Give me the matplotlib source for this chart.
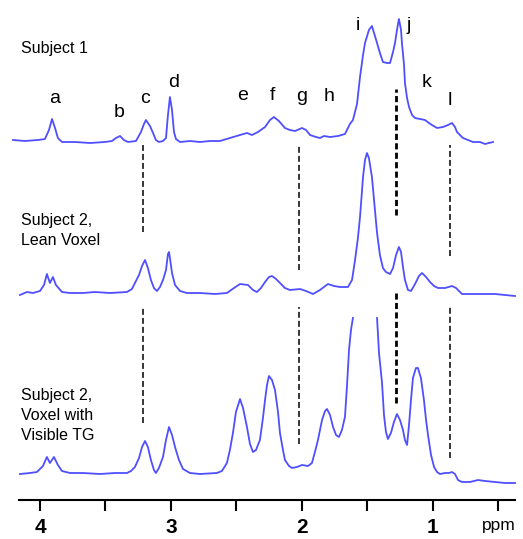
import matplotlib
matplotlib.use("Agg")
import matplotlib.pyplot as plt
import numpy as np

plt.rcParams['font.family'] = ['Liberation Sans', 'DejaVu Sans']

# chemical shift (ppm) and height above baseline for each spectrum
s1_ppm = [4.206, 4.115, 4.015, 3.962, 3.931, 3.908, 3.885, 3.863, 3.832, 3.733, 3.618, 3.504,
          3.450, 3.420, 3.389, 3.359, 3.328, 3.267, 3.229, 3.206, 3.191, 3.176, 3.160, 3.137,
          3.115, 3.092, 3.061, 3.038, 3.023, 3.008, 2.992, 2.977, 2.962, 2.931, 2.855, 2.779,
          2.702, 2.626, 2.550, 2.473, 2.420, 2.382, 2.336, 2.282, 2.244, 2.214, 2.176, 2.130,
          2.092, 2.053, 2.000, 1.969, 1.939, 1.893, 1.863, 1.832, 1.786, 1.725, 1.672, 1.634,
          1.611, 1.580, 1.557, 1.534, 1.519, 1.489, 1.466, 1.443, 1.427, 1.405, 1.382, 1.351,
          1.328, 1.305, 1.290, 1.275, 1.260, 1.244, 1.237, 1.221, 1.214, 1.198, 1.183, 1.160,
          1.137, 1.099, 1.061, 1.031, 1.008, 0.969, 0.924, 0.885, 0.855, 0.832, 0.817, 0.771,
          0.695, 0.641, 0.603, 0.542]
s1_int = [1, 0, 1, 2, 11, 22, 13, 3, -1, -1, -2, -1,
          0, 3, 5, 1, -1, 0, 9, 17, 21, 18, 15, 8,
          1, -1, 0, 3, 26, 44, 31, 9, 2, -1, 0, -1,
          0, 0, 3, 6, 8, 6, 9, 14, 21, 24, 20, 13,
          11, 10, 13, 11, 6, 4, 3, 5, 4, 5, 7, 17,
          21, 37, 64, 86, 98, 111, 115, 105, 98, 88, 79, 78,
          78, 89, 98, 111, 122, 111, 98, 76, 58, 43, 34, 26,
          23, 22, 21, 18, 16, 13, 14, 16, 18, 14, 9, 3,
          -1, -1, -3, -1]

lean_ppm = [4.153, 4.099, 4.053, 4.000, 3.969, 3.947, 3.924, 3.901, 3.878, 3.832, 3.771, 3.672,
            3.580, 3.466, 3.336, 3.298, 3.275, 3.244, 3.221, 3.198, 3.176, 3.153, 3.130, 3.107,
            3.084, 3.061, 3.038, 3.023, 3.015, 3.008, 2.992, 2.969, 2.931, 2.878, 2.779, 2.664,
            2.573, 2.519, 2.473, 2.412, 2.374, 2.344, 2.313, 2.282, 2.252, 2.229, 2.198, 2.168,
            2.130, 2.092, 2.015, 1.969, 1.916, 1.863, 1.802, 1.756, 1.710, 1.649, 1.618, 1.595,
            1.573, 1.557, 1.534, 1.519, 1.504, 1.489, 1.466, 1.443, 1.427, 1.405, 1.382, 1.359,
            1.328, 1.305, 1.282, 1.260, 1.244, 1.229, 1.214, 1.191, 1.168, 1.137, 1.107, 1.084,
            1.053, 1.023, 0.992, 0.962, 0.908, 0.855, 0.824, 0.779, 0.718, 0.618, 0.527, 0.450,
            0.374]
lean_int = [-2, 1, 0, 2, 8, 19, 10, 16, 8, 1, 0, 0,
            1, 0, 1, 4, 10, 18, 27, 33, 25, 13, 5, 2,
            6, 13, 23, 39, 41, 35, 20, 8, 2, 0, 0, -1,
            0, 5, 9, 8, 3, 1, 5, 11, 16, 17, 14, 10,
            5, 3, 4, 2, -1, 3, 9, 7, 6, 6, 13, 33,
            55, 76, 116, 133, 140, 135, 116, 83, 60, 38, 25, 21,
            19, 25, 38, 46, 41, 26, 13, 3, 2, 9, 17, 20,
            16, 11, 7, 5, 5, 7, 5, -1, -1, -1, -1, -2,
            -3]

# the big methylene peak runs off the top of the panel (gap = nan)
tg_ppm = [4.153, 4.076, 4.023, 3.977, 3.947, 3.924, 3.893, 3.863, 3.832, 3.771, 3.672, 3.542,
          3.427, 3.336, 3.305, 3.275, 3.244, 3.221, 3.198, 3.176, 3.153, 3.130, 3.115, 3.092,
          3.061, 3.038, 3.015, 2.992, 2.969, 2.939, 2.908, 2.855, 2.779, 2.649, 2.611, 2.573,
          2.550, 2.527, 2.504, 2.473, 2.450, 2.420, 2.397, 2.374, 2.351, 2.321, 2.298, 2.282,
          2.267, 2.252, 2.229, 2.206, 2.183, 2.168, 2.145, 2.130, 2.099, 2.076, 2.038, 2.000,
          1.954, 1.924, 1.901, 1.878, 1.847, 1.824, 1.809, 1.786, 1.763, 1.740, 1.718, 1.695,
          1.672, 1.656, 1.641, 1.626, 1.611, np.nan, 1.427, 1.412, 1.389, 1.374, 1.359, 1.344,
          1.321, 1.298, 1.275, 1.252, 1.229, 1.214, 1.198, 1.183, 1.168, 1.153, 1.130, 1.115,
          1.092, 1.069, 1.053, 1.038, 1.015, 0.992, 0.969, 0.947, 0.908, 0.878, 0.855, 0.832,
          0.809, 0.779, 0.718, 0.656, 0.603, 0.527, 0.450, 0.374]
tg_int = [0, 1, 2, 8, 17, 11, 17, 9, 3, 1, 1, 0,
          1, 1, 3, 7, 16, 27, 33, 27, 14, 4, 1, 6,
          17, 34, 47, 39, 27, 14, 5, 1, 0, 1, 3, 11,
          24, 41, 62, 75, 66, 47, 30, 22, 24, 34, 56, 74,
          89, 98, 94, 84, 62, 41, 24, 14, 8, 6, 7, 9,
          8, 11, 22, 34, 54, 63, 65, 59, 47, 39, 37, 44,
          57, 89, 124, 144, 156, np.nan, 156, 121, 91, 59, 42, 35,
          41, 52, 60, 54, 44, 34, 29, 49, 74, 96, 106, 106,
          96, 74, 54, 39, 19, 7, 2, 0, 1, 1, 2, 0,
          -6, -8, -8, -6, -7, -8, -9, -9]

peak_letters = ['a', 'b', 'c', 'd', 'e', 'f', 'g', 'h', 'i', 'j', 'k', 'l']
letter_ppm = [3.885, 3.397, 3.198, 2.977, 2.450, 2.229, 2.000, 1.794, 1.573, 1.183, 1.046, 0.870]
marker_ppm = [3.214, 2.023, 1.282, 0.870]

tick_pos = [4, 3.5, 3, 2.5, 2, 1.5, 1, 0.5]
tick_text = ['4', '', '3', '', '2', '', '1', 'ppm']

# layout (axes units are pixels above the x axis line)
offsets = [359, 207, 26]
letter_y = [397, 383, 397, 413, 400, 400, 399, 399, 470, 470, 413, 395]
marker_segs = [[(268, 355), (77, 193)],
               [(230, 355), (56, 193)],
               [(285, 411), (97, 210)],
               [(244, 355), (42, 193)]]
labels = [(['Subject 1'], 447),
          (['Subject 2,', 'Lean Voxel'], 275),
          (['Subject 2,', 'Voxel with', 'Visible TG'], 100)]

line_color = '#4f4fff'

fig = plt.figure(figsize=(5.23, 5.39), dpi=100)
ax = fig.add_axes([19 / 523, 39 / 539, 496 / 523, 500 / 539])
ax.set_xlim(4.160, 0.374)
ax.set_ylim(0, 500)

for ppm, inten, off in zip([s1_ppm, lean_ppm, tg_ppm], [s1_int, lean_int, tg_int], offsets):
    ax.plot(ppm, np.array(inten, dtype=float) + off, color=line_color, lw=1.3,
            clip_on=False, solid_joinstyle='round')

for k, (pos, segs) in enumerate(zip(marker_ppm, marker_segs)):
    lw = 2.0 if k == 2 else 1.1
    dash = (2.2, 1.2) if k == 2 else (3.9, 2.0)
    for y0, y1 in segs:
        ax.plot([pos, pos], [y0, y1], color='black', lw=lw, dashes=dash)

for lab, pos, y in zip(peak_letters, letter_ppm, letter_y):
    ax.text(pos, y, lab, fontsize=14, ha='center', va='baseline')

for lines, y in labels:
    for i, line in enumerate(lines):
        ax.text(4.145, y - 20 * i, line, fontsize=11.5, ha='left', va='baseline')

for side in ['top', 'right', 'left']:
    ax.spines[side].set_visible(False)
ax.spines['bottom'].set_linewidth(1.5)
ax.set_yticks([])
ax.set_xticks(tick_pos)
ax.set_xticklabels(tick_text)
ax.tick_params(axis='x', direction='out', length=8, width=1.5, pad=5, labelsize=15)
for t in ax.get_xticklabels():
    if t.get_text() == 'ppm':
        t.set_fontsize(12.5)
    else:
        t.set_fontweight('bold')

fig.savefig('out.png', dpi=100)
